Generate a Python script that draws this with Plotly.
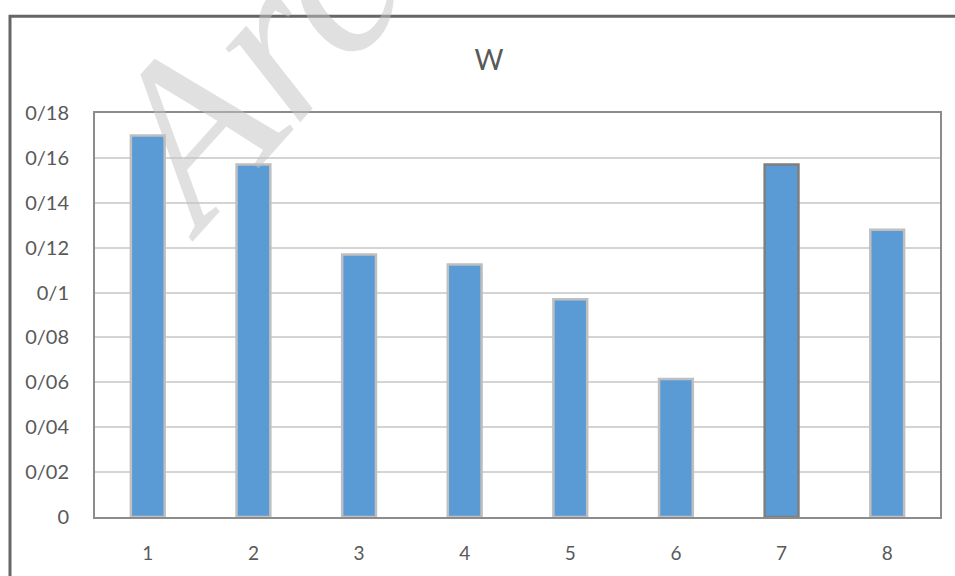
import plotly.graph_objects as go

categories = ["1", "2", "3", "4", "5", "6", "7", "8"]
values = [0.170, 0.157, 0.117, 0.1125, 0.097, 0.0615, 0.157, 0.128]
outline_colors = ["#bfbfbf", "#bfbfbf", "#bfbfbf", "#bfbfbf", "#bfbfbf", "#bfbfbf", "#7f7f7f", "#bfbfbf"]
tick_vals = [0, 0.02, 0.04, 0.06, 0.08, 0.10, 0.12, 0.14, 0.16, 0.18]
tick_text = ["0", "0/02", "0/04", "0/06", "0/08", "0/1", "0/12", "0/14", "0/16", "0/18"]
title_text = "W"
watermark = "Archive of SID"

W, H = 955, 576
L, R, T, B = 95, 15, 113, 54
pw, ph = W - L - R, H - T - B

def px_x(x):
    return (x - L) / pw

def px_y(y):
    return (H - B - y) / ph

fig = go.Figure(go.Bar(
    x=categories, y=values,
    marker=dict(color="#5b9bd5", line=dict(color=outline_colors, width=2.5)),
))

fig.update_layout(
    width=W, height=H,
    margin=dict(l=L, r=R, t=T, b=B),
    paper_bgcolor="white", plot_bgcolor="white",
    bargap=0.68,
    showlegend=False,
    font=dict(family="Lato, Carlito, sans-serif", color="#595959"),
    title=dict(text=title_text, x=489 / W, xanchor="center", y=1 - 60 / H, yanchor="middle",
               font=dict(size=28, color="#595959")),
    xaxis=dict(type="category", showline=True, linecolor="#8c8c8c", linewidth=2, mirror=True,
               showgrid=False, tickfont=dict(size=19, color="#595959"), ticks="",
               ticklabelstandoff=18),
    yaxis=dict(range=[0, 0.18], tickvals=tick_vals, ticktext=tick_text, showline=True,
               linecolor="#8c8c8c", linewidth=2, mirror=True, gridcolor="#d4d4d4", gridwidth=2,
               tickfont=dict(size=20, color="#595959"), ticks="", ticklabelstandoff=20,
               zeroline=False),
    shapes=[dict(type="rect", xref="paper", yref="paper",
                 x0=px_x(10), x1=px_x(1000), y0=px_y(620), y1=px_y(15),
                 line=dict(color="#666666", width=3), fillcolor="rgba(0,0,0,0)", layer="below")],
    annotations=[dict(text="<i>" + watermark + "</i>", xref="paper", yref="paper",
                      x=px_x(38), y=px_y(280), xanchor="left", yanchor="bottom",
                      textangle=-48, showarrow=False,
                      font=dict(family="Liberation Serif, serif", size=228, color="rgba(194,194,194,0.5)"))],
)

fig.write_html("out.html")
